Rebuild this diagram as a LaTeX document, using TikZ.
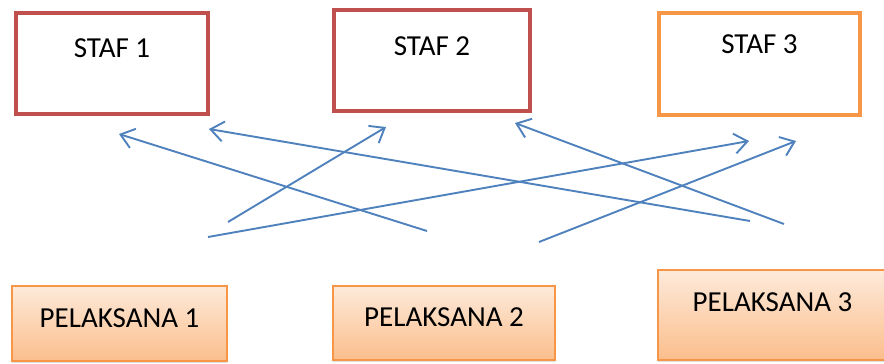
\documentclass[tikz,border=0pt]{standalone}
\usepackage{fontspec}
\setmainfont{Carlito}
\usetikzlibrary{positioning,arrows.meta,shadows}
\definecolor{stafred}{RGB}{192,80,77}
\definecolor{staforange}{RGB}{247,150,70}
\definecolor{linkblue}{RGB}{79,129,189}
\definecolor{peachtop}{RGB}{253,234,218}
\definecolor{peachbot}{RGB}{251,190,140}

\begin{document}
\begin{tikzpicture}[x=1pt, y=-1pt,
    every node/.style={font=\fontsize{29}{34}\selectfont, inner sep=0pt},
    staf/.style={draw=stafred, line width=4pt, fill=white, text height=44pt, text depth=57pt},
    pelaksana/.style={draw=staforange, line width=1.5pt, top color=peachtop, bottom color=peachbot,
                      drop shadow={opacity=0.25, shadow xshift=0pt, shadow yshift=-2pt},
                      text height=41pt, text depth=34pt},
    link/.style={draw=linkblue, line width=1.9pt, -{Straight Barb[length=13pt, width=20pt, line width=1.9pt]}}]
    \useasboundingbox (0,0) rectangle (884,364);
    % staf boxes
    \node (S1)[staf, minimum width=192pt] at (112,63.5) {STAF 1};
    \node (S2)[staf, minimum width=196pt, text height=45pt, text depth=56pt] at (432,60.5) {STAF 2};
    \node (S3)[staf, draw=staforange, minimum width=201pt, text height=40pt, text depth=62pt] at (759.5,64) {STAF 3};
    % pelaksana boxes
    \node (P1)[pelaksana, minimum width=215pt] at (119.5,323.5) {PELAKSANA 1};
    \node (P2)[pelaksana, minimum width=222pt, text height=40pt] at (444,323) {PELAKSANA 2};
    \node (P3)[pelaksana, minimum width=229pt, text depth=49pt] at (772.5,315) {PELAKSANA 3};
    % arrow ends
    \coordinate (a1) at (427,231); \coordinate (b1) at (119,134);
    \coordinate (a2) at (750,221); \coordinate (b2) at (209,129);
    \coordinate (a3) at (228,222); \coordinate (b3) at (386,127);
    \coordinate (a4) at (208,237); \coordinate (b4) at (749,141);
    \coordinate (a5) at (784,224); \coordinate (b5) at (515,123);
    \coordinate (a6) at (539,242); \coordinate (b6) at (796,141);
    \foreach \i in {1,...,6}
      \draw[link] (a\i) -- (b\i);
\end{tikzpicture}
\end{document}
